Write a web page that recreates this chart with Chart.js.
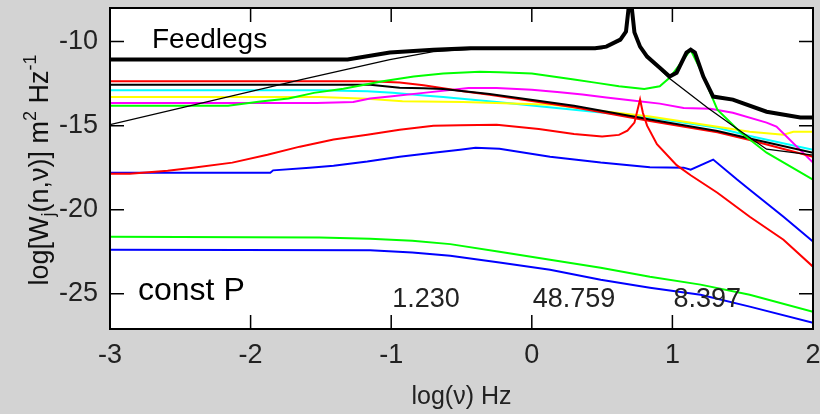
<!DOCTYPE html>
<html>
<head>
<meta charset="utf-8">
<script src="https://cdn.jsdelivr.net/npm/chart.js@4"></script>
<style>
	body { margin: 0; background: #d3d3d3; }
	#wrap { width: 820px; height: 414px; position: relative; }
</style>
</head>
<body>
<div id="wrap"><canvas id="spectra"></canvas></div>
<script>
// log(nu) values and log(W) values
const totalX = [-3, -1.31, -1.01, -0.70, -0.44, 0.45, 0.53, 0.63, 0.67, 0.69, 0.71, 0.73, 0.77, 0.82, 0.91, 0.98, 1.03, 1.10, 1.13, 1.16, 1.22, 1.29, 1.43, 1.67, 1.91, 2];
const totalY = [-11.07, -11.07, -10.65, -10.48, -10.40, -10.40, -10.30, -9.88, -9.40, -7.90, -7.90, -9.45, -10.30, -10.89, -11.55, -12.08, -11.85, -10.65, -10.48, -10.65, -12.08, -13.27, -13.45, -14.17, -14.52, -14.52];

const thinX = [-3, -1.64, -1.01, -0.70, -0.40, 0.50, 0.63, 0.67, 0.69, 0.71, 0.73, 0.77, 0.82, 0.91, 0.98, 1.25, 1.48, 1.67, 2];
const thinY = [-14.94, -12.26, -11.07, -10.60, -10.45, -10.42, -9.95, -9.45, -7.95, -7.95, -9.50, -10.35, -10.95, -11.62, -12.20, -13.93, -15.30, -16.40, -16.75];

const blackX = [-3, -1.15, -0.94, -0.77, -0.63, -0.30, 0.30, 0.84, 1.32, 1.55, 2];
const blackY = [-12.56, -12.56, -12.74, -12.78, -12.82, -13.12, -13.82, -14.64, -15.32, -15.76, -16.62];

const redX = [-3, -1.15, -0.94, -0.77, -0.63, -0.49, -0.30, 0.30, 0.84, 1.32, 1.55, 2];
const redY = [-12.36, -12.36, -12.44, -12.60, -12.78, -12.96, -13.16, -13.90, -14.72, -15.40, -15.85, -16.85];

const cyanX = [-3, -1.51, -1.17, -0.99, -0.77, -0.63, -0.44, -0.23, 0.30, 0.84, 1.32, 1.55, 2];
const cyanY = [-12.90, -12.90, -12.96, -13.05, -13.20, -13.29, -13.45, -13.61, -14.05, -14.52, -15.12, -15.62, -16.43];

const yellowX = [-3, -1.51, -1.17, -0.92, -0.49, 0.15, 0.51, 0.84, 1.32, 1.55, 1.79, 1.86, 2];
const yellowY = [-13.29, -13.29, -13.40, -13.55, -13.60, -13.75, -14.15, -14.46, -15.06, -15.36, -15.54, -15.36, -15.36];

const magentaX = [-3, -1.53, -1.27, -1.15, -1.01, -0.77, -0.45, -0.25, 0.00, 0.20, 0.36, 0.53, 0.70, 0.91, 1.08, 1.27, 1.43, 1.67, 1.74, 2];
const magentaY = [-13.65, -13.65, -13.59, -13.39, -13.26, -13.05, -12.76, -12.76, -12.86, -13.02, -13.15, -13.32, -13.49, -13.69, -13.95, -13.99, -14.23, -14.82, -15.06, -17.20];

const greenX = [-3, -2.16, -1.93, -1.73, -1.55, -1.34, -1.06, -0.84, -0.63, -0.37, -0.23, 0.00, 0.15, 0.30, 0.45, 0.62, 0.80, 0.91, 0.98, 1.13, 1.20, 1.32, 1.48, 1.67, 2];
const greenY = [-13.81, -13.81, -13.57, -13.39, -13.05, -12.80, -12.36, -12.07, -11.90, -11.80, -11.83, -11.90, -12.08, -12.26, -12.44, -12.66, -12.82, -12.66, -12.15, -10.50, -11.67, -14.05, -15.36, -16.61, -18.21];

const redLowX = [-3, -2.86, -2.59, -2.41, -2.13, -1.88, -1.65, -1.41, -1.17, -0.94, -0.70, -0.51, -0.25, 0.05, 0.30, 0.50, 0.62, 0.68, 0.73, 0.77, 0.79, 0.82, 0.89, 1.03, 1.13, 1.32, 1.55, 1.79, 2];
const redLowY = [-17.86, -17.86, -17.68, -17.50, -17.20, -16.73, -16.25, -15.83, -15.54, -15.24, -15.00, -14.97, -14.94, -15.20, -15.50, -15.64, -15.55, -15.30, -14.82, -13.45, -14.23, -15.00, -16.10, -17.35, -17.95, -18.99, -20.42, -21.79, -23.39];

const blueX = [-3, -1.86, -1.84, -1.58, -1.41, -1.17, -0.94, -0.70, -0.51, -0.40, -0.23, 0.13, 0.49, 0.84, 1.08, 1.13, 1.29, 1.46, 1.55, 1.79, 2];
const blueY = [-17.80, -17.80, -17.66, -17.50, -17.38, -17.14, -16.85, -16.61, -16.43, -16.31, -16.37, -16.85, -17.20, -17.47, -17.50, -17.62, -17.02, -18.21, -18.81, -20.42, -21.90];

const greenLowX = [-3, -1.51, -1.15, -0.85, -0.58, -0.23, 0.13, 0.49, 0.84, 1.20, 1.55, 2];
const greenLowY = [-21.61, -21.65, -21.73, -21.85, -22.05, -22.50, -22.98, -23.45, -23.99, -24.46, -25.06, -26.07];

const blueLowX = [-3, -1.15, -0.85, -0.58, -0.23, 0.13, 0.49, 0.84, 1.20, 1.55, 2];
const blueLowY = [-22.38, -22.42, -22.55, -22.74, -23.15, -23.57, -24.17, -24.64, -25.06, -25.77, -26.73];

const xTicks = [-3, -2, -1, 0, 1, 2];
const yTicks = [-25, -20, -15, -10];
const notes = ['1.230', '48.759', '8.397'];
const noteAt = [-1, 0, 1];

const FONT = "'Liberation Sans', Arial, sans-serif";
const pts = (xs, ys) => xs.map((x, i) => ({ x: x, y: ys[i] }));
const series = (xs, ys, color, width) => ({
	data: pts(xs, ys),
	borderColor: color,
	borderWidth: width,
	pointRadius: 0,
	tension: 0,
	fill: false,
});

const framePlugin = {
	id: 'frame',
	beforeDraw(chart) {
		const { ctx, chartArea: a } = chart;
		ctx.save();
		ctx.fillStyle = '#fff';
		ctx.fillRect(a.left, a.top, a.width, a.height);
		ctx.restore();
	},
	afterDraw(chart) {
		const { ctx, chartArea: a, scales: { x, y } } = chart;
		ctx.save();
		ctx.strokeStyle = '#000';
		ctx.lineWidth = 1.5;
		ctx.beginPath();
		xTicks.forEach(v => {
			const px = x.getPixelForValue(v);
			ctx.moveTo(px, a.bottom); ctx.lineTo(px, a.bottom - 14);
			ctx.moveTo(px, a.top); ctx.lineTo(px, a.top + 14);
		});
		yTicks.forEach(v => {
			const py = y.getPixelForValue(v);
			ctx.moveTo(a.left, py); ctx.lineTo(a.left + 14, py);
			ctx.moveTo(a.right, py); ctx.lineTo(a.right - 14, py);
		});
		ctx.stroke();
		ctx.lineWidth = 2;
		ctx.strokeRect(a.left, a.top, a.width, a.height);

		// labels inside the plot
		ctx.fillStyle = '#000';
		ctx.textBaseline = 'alphabetic';
		ctx.font = '28px ' + FONT;
		ctx.fillText('Feedlegs', a.left + 42, 48);
		ctx.font = '32px ' + FONT;
		ctx.fillText('const P', a.left + 28, 300);
		ctx.fillStyle = '#222';
		ctx.font = '27px ' + FONT;
		notes.forEach((t, i) => ctx.fillText(t, x.getPixelForValue(noteAt[i]) + 1, 307));

		// y axis title with sub/superscripts
		ctx.translate(48, 170);
		ctx.rotate(-Math.PI / 2);
		const big = '27px ' + FONT, small = '18px ' + FONT;
		const parts = [
			['log[W', big, 0], ['j', small, 6], ['(n,ν)] m', big, 0],
			['2', small, -12], [' Hz', big, 0], ['-1', small, -12],
		];
		let total = 0;
		parts.forEach(p => { ctx.font = p[1]; total += ctx.measureText(p[0]).width; });
		let pos = -total / 2;
		ctx.fillStyle = '#111';
		parts.forEach(p => {
			ctx.font = p[1];
			ctx.fillText(p[0], pos, p[2]);
			pos += ctx.measureText(p[0]).width;
		});
		ctx.restore();
	}
};

const spectra = new Chart(document.getElementById('spectra'), {
	type: 'line',
	data: {
		datasets: [
			series(totalX, totalY, '#000', 4),
			series(thinX, thinY, '#000', 1.3),
			series(greenX, greenY, '#00ff00', 2),
			series(redLowX, redLowY, '#ff0000', 2),
			series(blueX, blueY, '#0000ff', 2),
			series(blackX, blackY, '#000', 2),
			series(redX, redY, '#ff0000', 2),
			series(magentaX, magentaY, '#ff00ff', 2),
			series(yellowX, yellowY, '#ffff00', 2),
			series(cyanX, cyanY, '#00ffff', 2),
			series(greenLowX, greenLowY, '#00ff00', 2),
			series(blueLowX, blueLowY, '#0000ff', 2),
		]
	},
	options: {
		responsive: true,
		maintainAspectRatio: false,
		animation: false,
		layout: { padding: { top: 8, right: 7, left: 0, bottom: 0 } },
		plugins: { legend: { display: false }, tooltip: { enabled: false } },
		scales: {
			x: {
				type: 'linear',
				min: -3,
				max: 2,
				afterBuildTicks: s => { s.ticks = xTicks.map(v => ({ value: v })); },
				afterFit: s => { s.height = 85; s.paddingLeft = 0; s.paddingRight = 0; },
				grid: { display: false, drawTicks: false },
				border: { display: false },
				ticks: { color: '#222', padding: 10, maxRotation: 0, font: { family: FONT, size: 27 } },
				title: {
					display: true,
					text: 'log(ν) Hz',
					color: '#222',
					padding: { top: 0, bottom: 2 },
					font: { family: FONT, size: 25 }
				}
			},
			y: {
				type: 'linear',
				min: -27.1,
				max: -8,
				afterBuildTicks: s => { s.ticks = yTicks.map(v => ({ value: v })); },
				afterFit: s => { s.width = 110; s.paddingTop = 0; s.paddingBottom = 0; },
				grid: { display: false, drawTicks: false },
				border: { display: false },
				ticks: { color: '#222', padding: 12, font: { family: FONT, size: 27 } }
			}
		}
	},
	plugins: [framePlugin]
});
</script>
</body>
</html>
